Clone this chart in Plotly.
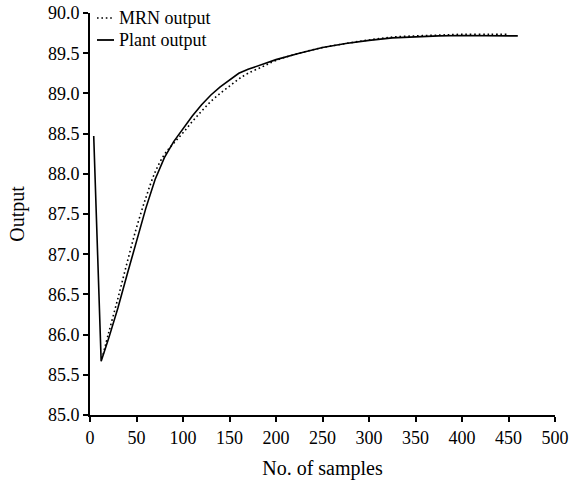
import plotly.graph_objects as go

# Plant output
plant_x = [4, 12, 20, 30, 40, 50, 60, 70, 80, 90, 100, 110, 120, 130, 140, 150, 160, 170, 185, 200,
           225, 250, 275, 300, 325, 350, 375, 400, 430, 460]
plant_y = [88.47, 85.67, 85.95, 86.33, 86.75, 87.17, 87.57, 87.93, 88.2, 88.4, 88.56, 88.72, 88.86,
           88.98, 89.08, 89.17, 89.25, 89.3, 89.36, 89.42, 89.5, 89.57, 89.62, 89.66, 89.69, 89.705,
           89.715, 89.72, 89.72, 89.715]

# MRN output
mrn_x = [14, 20, 30, 40, 50, 60, 70, 80, 90, 100, 110, 120, 130, 140, 150, 160, 170, 185, 200,
         225, 250, 275, 300, 325, 350, 375, 400, 430, 450]
mrn_y = [85.75, 86.02, 86.45, 86.9, 87.33, 87.7, 88.02, 88.24, 88.38, 88.51, 88.65, 88.78, 88.9,
         89.0, 89.09, 89.18, 89.25, 89.33, 89.41, 89.5, 89.57, 89.62, 89.665, 89.7, 89.715,
         89.725, 89.735, 89.735, 89.735]

series_names = ["MRN output", "Plant output"]
x_ticks = [0, 50, 100, 150, 200, 250, 300, 350, 400, 450, 500]
y_ticks = [85.0, 85.5, 86.0, 86.5, 87.0, 87.5, 88.0, 88.5, 89.0, 89.5, 90.0]

FONT = "Liberation Serif, Times New Roman, serif"
DOT = "1.6px,2.8px"

fig = go.Figure()
fig.add_trace(go.Scatter(x=mrn_x, y=mrn_y, mode="lines", name=series_names[0],
                         line=dict(color="black", width=1.6, dash=DOT, shape="spline")))
fig.add_trace(go.Scatter(x=plant_x, y=plant_y, mode="lines", name=series_names[1],
                         line=dict(color="black", width=1.6)))

axis_common = dict(showline=True, linecolor="black", linewidth=2, ticks="outside",
                   ticklen=5, tickwidth=2, tickcolor="black", showgrid=False, zeroline=False,
                   automargin=False,
                   tickfont=dict(family=FONT, size=18, color="black"))

fig.update_layout(
    width=578, height=482,
    margin=dict(l=90, r=23, t=13, b=67),
    paper_bgcolor="white", plot_bgcolor="white",
    font=dict(family=FONT, size=18, color="black"),
    xaxis=dict(range=[0, 500], tickvals=x_ticks, ticktext=[str(v) for v in x_ticks],
               title=dict(text="No. of samples", font=dict(family=FONT, size=20), standoff=14),
               **axis_common),
    yaxis=dict(range=[85, 90], tickvals=y_ticks, ticktext=[f"{v:.1f}" for v in y_ticks],
               title=dict(text="Output", font=dict(family=FONT, size=20), standoff=18),
               **axis_common),
    showlegend=False,
)

# manual legend (paper coordinates, top-left inside the plot)
pw = 578 - 90 - 23
ph = 482 - 13 - 67
def px_x(p):
    return (p - 90) / pw
def px_y(p):
    return 1 - (p - 13) / ph

legend_rows = [(18, DOT), (40, "solid")]
for name, (ypix, dash) in zip(series_names, legend_rows):
    fig.add_shape(type="line", xref="paper", yref="paper",
                  x0=px_x(97), x1=px_x(114), y0=px_y(ypix), y1=px_y(ypix),
                  line=dict(color="black", width=1.8 if dash == "solid" else 1.6, dash=dash))
    fig.add_annotation(xref="paper", yref="paper", x=px_x(117), y=px_y(ypix),
                       xanchor="left", yanchor="middle", showarrow=False, text=name,
                       font=dict(family=FONT, size=18, color="black"))

fig.write_html("out.html")
